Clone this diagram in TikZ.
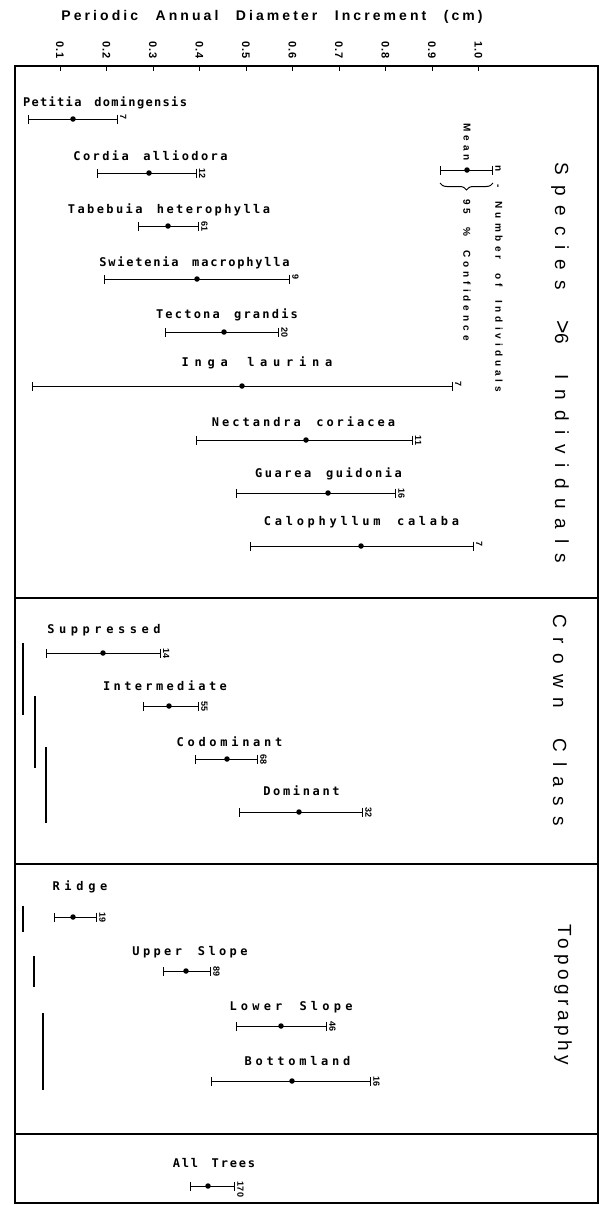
\documentclass[tikz,border=0pt]{standalone}
\usepackage{fontspec}
\setmainfont{Liberation Sans}
\newfontfamily\labf[WordSpace=1.5]{DejaVu Sans Mono Bold}
\newfontfamily\legf[LetterSpace=40,WordSpace=2]{Liberation Sans Bold}
\newfontfamily\titf[LetterSpace=22,WordSpace=2.5]{Liberation Sans Bold}
\newfontfamily\secf[LetterSpace=52,WordSpace=2]{Liberation Sans}
\newfontfamily\topf[LetterSpace=24]{Liberation Sans}
\newfontfamily\tickf[LetterSpace=10]{Liberation Sans Bold}
\newfontfamily\numf[LetterSpace=5]{Liberation Sans Bold}
\newcommand\doLS[1]{\addfontfeature{LetterSpace=#1}}
\usetikzlibrary{arrows.meta,decorations.pathreplacing}
\tikzset{
  frame/.style={line width=2pt},
  divider/.style={line width=1.4pt},
  ebar/.style={line width=1pt,{Bar[width=9pt,line width=1pt]}-{Bar[width=9pt,line width=1pt]}},
  mdot/.style={circle,fill=black,inner sep=0pt,minimum size=5.5pt},
  grp/.style={line width=1.5pt},
  tickmark/.style={line width=1pt},
  labtxt/.style={font=\labf\fontsize{12}{14}\selectfont,inner sep=0pt},
  legtxt/.style={font=\legf\fontsize{10}{11}\selectfont,inner sep=0pt,rotate=-90},
  nlab/.style={font=\numf\fontsize{9}{10}\selectfont,rotate=-90,anchor=south west,inner sep=0pt},
  ticklab/.style={font=\tickf\fontsize{11}{12}\selectfont,rotate=-90,inner sep=0pt},
  secttxt/.style={font=\secf\fontsize{19}{21}\selectfont,rotate=-90,inner sep=0pt},
  titletxt/.style={font=\titf\fontsize{14}{16}\selectfont,inner sep=0pt},
}
\begin{document}
\begin{tikzpicture}[x=1pt,y=-1pt]
\useasboundingbox (0,0) rectangle (599,1205);
% frame
\coordinate (tl) at (15,66);
\coordinate (br) at (598,1203);
\draw[frame] (tl) rectangle (br);
% dividers
\foreach \i/\y in {1/598,2/864,3/1134}{
  \coordinate (dl\i) at (15,\y);
  \coordinate (dr\i) at (598,\y);
  \draw[divider] (dl\i) -- (dr\i);
}
% title
\node[titletxt] (title) at (272,17) {Periodic Annual Diameter Increment (cm)};
% ticks
\foreach \k/\t in {1/0.1,2/0.2,3/0.3,4/0.4,5/0.5,6/0.6,7/0.7,8/0.8,9/0.9,10/1.0}{
  \coordinate (tk\k a) at (13.5+46.5*\k,66);
  \coordinate (tk\k b) at (13.5+46.5*\k,71);
  \draw[tickmark] (tk\k a) -- (tk\k b);
  \node[ticklab] (tl\k) at (13.5+46.5*\k,50) {\t};
}
% labels
\foreach \nm/\x/\y/\ls/\t in {
  pet/105/103/11/Petitia domingensis,
  cor/150.5/156/20/Cordia alliodora,
  tab/169/210/20/Tabebuia heterophylla,
  swi/194.5/263/15/Swietenia macrophylla,
  tec/227/315/18.5/Tectona grandis,
  ing/257/363/48/Inga laurina,
  nec/303.5/422/25/Nectandra coriacea,
  gua/328.5/474/21.5/Guarea guidonia,
  cal/361.5/522/31/Calophyllum calaba,
  sup/104/630/38/Suppressed,
  int/165/686/28/Intermediate,
  cod/229.5/742/31/Codominant,
  dom/301.5/791/22/Dominant,
  rid/80/887/39/Ridge,
  ups/190/952/28/Upper Slope,
  lws/291/1007/35/Lower Slope,
  bot/297.5/1061/31/Bottomland,
  all/214/1163/15/All Trees}{
  \node[labtxt] (\nm-lab) at (\x,\y) {\expandafter\doLS\expandafter{\ls}\t};
}
% error bars
\foreach \nm/\y/\lo/\m/\hi/\n in {
  pet/119/28/73/118/7,
  cor/173/97/149/197/12,
  tab/226/138/168/199/61,
  swi/279/104/197/290/9,
  tec/332/165/224/279/20,
  ing/386/32/242/453/7,
  nec/440/196/306/413/11,
  gua/493/236/328/396/16,
  cal/546/250/361/474/7,
  sup/653/46/103/161/14,
  int/706/143/169/199/55,
  cod/759/195/227/258/68,
  dom/812/239/299/363/32,
  rid/917/54/73/97/19,
  ups/971/163/186/211/89,
  lws/1026/236/281/327/46,
  bot/1081/211/292/371/16,
  all/1186/190/208/235/170}{
  \coordinate (\nm-lo) at (\lo,\y);
  \coordinate (\nm-hi) at (\hi,\y);
  \draw[ebar] (\nm-lo) -- (\nm-hi);
  \node[mdot] (\nm-m) at (\m,\y) {};
  \node[nlab] (\nm-n) at (\hi+2,\y-5) {\n};
}
% grouping lines
\foreach \nm/\x/\ya/\yb in {
  g1/23/643/715, g2/35/696/768, g3/46/747/823,
  g4/23/906/932, g5/34/956/987, g6/43/1013/1090}{
  \coordinate (\nm a) at (\x,\ya);
  \coordinate (\nm b) at (\x,\yb);
  \draw[grp] (\nm a) -- (\nm b);
}
% legend
\coordinate (leg-lo) at (440,170);
\coordinate (leg-hi) at (493,170);
\draw[ebar] (leg-lo) -- (leg-hi);
\node[mdot] (leg-m) at (467,170) {};
\node[legtxt,anchor=east] (leg-mean) at (467,161) {Mean};
\coordinate (leg-b1) at (493,183);
\coordinate (leg-b2) at (440,183);
\draw[line width=1pt,decorate,decoration={brace,amplitude=7pt}] (leg-b1) -- (leg-b2);
\node[legtxt,anchor=west] (leg-conf) at (467,199) {95 \% Confidence};
\node[legtxt,anchor=south west] (leg-n) at (495,165) {n - Number of Individuals};
% section labels
\node[secttxt] (sec1) at (560,363) {Species {\fontsize{23}{23}\selectfont >}6 Individuals};
\node[secttxt] (sec2) at (560,720) {Crown Class};
\node[secttxt,font=\topf\fontsize{19}{21}\selectfont] (sec3) at (563,995) {Topography};
\end{tikzpicture}
\end{document}
